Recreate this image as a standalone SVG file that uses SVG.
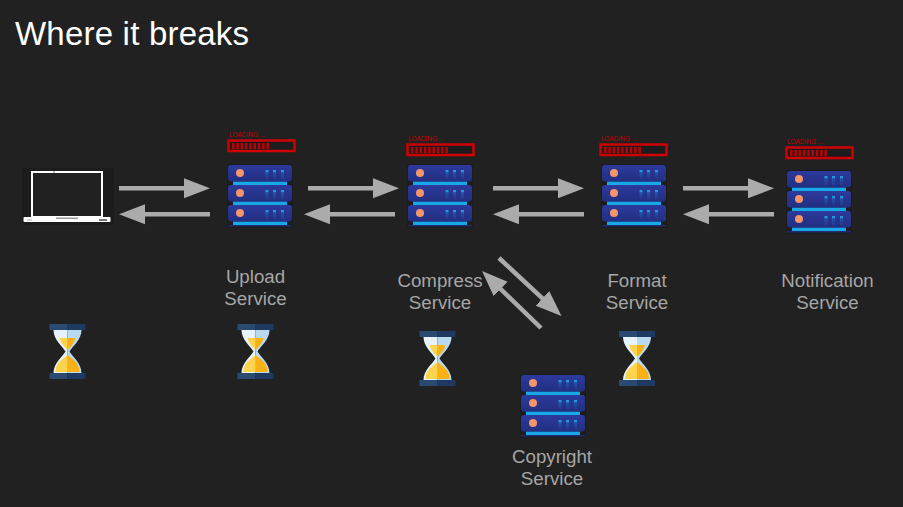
<svg xmlns="http://www.w3.org/2000/svg" width="903" height="507" viewBox="0 0 903 507">
<style>
text{font-family:"Liberation Sans",Arial,sans-serif}
.title{font-size:33px;fill:#fff}
.lab{font-size:18.7px;fill:#a6a6a6;text-anchor:middle}
.load{font-size:6.500px;fill:#c00000}
.conn line{stroke:#ababab;stroke-width:4.500;marker-end:url(#ah)}
</style>
<defs>
<linearGradient id="body" x1="0" y1="0" x2="0" y2="1"><stop offset="0" stop-color="#2c3a9e"/><stop offset="1" stop-color="#232f80"/></linearGradient>
<linearGradient id="tail" x1="0" y1="0" x2="0" y2="1"><stop offset="0" stop-color="#1d56a8"/><stop offset="1" stop-color="#27348b"/></linearGradient>
<marker id="ah" markerUnits="userSpaceOnUse" markerWidth="27" markerHeight="22" refX="11" refY="11" orient="auto"><path d="M0 1L26 11L0 21Z" fill="#ababab"/></marker>
<g id="unit">
<rect x="5" y="16" width="54" height="4" fill="#18a8e6"/>
<rect x="5" y="16" width="54" height="1" fill="#0e6cb0"/>
<rect x="0" y="0" width="64" height="16.500" rx="3" fill="url(#body)"/>
<circle cx="12" cy="8" r="4" fill="#f4956c"/>
<g fill="#1e9ade"><rect x="37.500" y="5" width="3" height="2.500"/><rect x="45" y="5" width="3" height="2.500"/><rect x="53" y="5" width="3" height="2.500"/></g>
<g fill="url(#tail)"><rect x="37.500" y="7.500" width="3" height="7"/><rect x="45" y="7.500" width="3" height="7"/><rect x="53" y="7.500" width="3" height="7"/></g>
</g>
<g id="server">
<rect x="-1" y="-1" width="66" height="64" fill="#1c1c1e"/>
<use href="#unit" y="0"/><use href="#unit" y="20"/><use href="#unit" y="40"/>
<rect x="0" y="60" width="64" height="1.500" fill="#1f2a6e"/>
</g>
<g id="bar">
<text class="load" x="1" y="-3" textLength="36">LOADING ...</text>
<rect x="0.500" y="0.500" width="66" height="10.500" fill="#1c1c1e" stroke="#d00000" stroke-width="2.500"/>
<g fill="#c00000"><rect x="4" y="3" width="2.500" height="6"/><rect x="8.300" y="3" width="2.500" height="6"/><rect x="12.600" y="3" width="2.500" height="6"/><rect x="16.900" y="3" width="2.500" height="6"/><rect x="21.200" y="3" width="2.500" height="6"/><rect x="25.500" y="3" width="2.500" height="6"/><rect x="29.800" y="3" width="2.500" height="6"/><rect x="34.100" y="3" width="2.500" height="6"/><rect x="38.400" y="3" width="2.500" height="6"/></g>
</g>
<g id="glass">
<path d="M-14 6C-14 16-5 22-2 27.500C-5 33-14 39-14 49H0V6Z" fill="#e6f3fb"/>
<path d="M14 6C14 16 5 22 2 27.500C5 33 14 39 14 49H0V6Z" fill="#b9d9ee"/>
<path d="M-8 14C-7 19-3 23 0 26V14Z" fill="#fcd34d"/><path d="M8 14C7 19 3 23 0 26V14Z" fill="#f9b115"/>
<path d="M-12 48C-12 42-9 38-5 35L0 31V48Z" fill="#fcd34d"/><path d="M12 48C12 42 9 38 5 35L0 31V48Z" fill="#f9b115"/>
<rect x="-18" y="0" width="18" height="6" fill="#2a4a72"/><rect x="0" y="0" width="18" height="6" fill="#1f3a60"/>
<rect x="-18" y="49" width="18" height="6" fill="#2a4a72"/><rect x="0" y="49" width="18" height="6" fill="#1f3a60"/>
</g>
</defs>
<rect width="903" height="507" fill="#212121"/>
<text class="title" x="15" y="45" textLength="234">Where it breaks</text>
<g id="connectors" class="conn">
<line x1="119" y1="188.300" x2="195" y2="188.300"/>
<line x1="210" y1="214.300" x2="134" y2="214.300"/>
<line x1="308" y1="188.300" x2="384" y2="188.300"/>
<line x1="395" y1="214.300" x2="319" y2="214.300"/>
<line x1="493" y1="188.300" x2="569" y2="188.300"/>
<line x1="584" y1="214.300" x2="508" y2="214.300"/>
<line x1="683" y1="188.300" x2="759" y2="188.300"/>
<line x1="774" y1="214.300" x2="698" y2="214.300"/>
<line x1="499" y1="258" x2="550.500" y2="305.800"/>
<line x1="541" y1="328" x2="492.800" y2="281.400"/>
</g>
<g id="laptop">
<rect x="22" y="168" width="92" height="57" fill="#1c1c1c"/>
<rect x="32" y="172" width="70" height="45" fill="#212121" stroke="#fff" stroke-width="2"/>
<rect x="53.500" y="171" width="1" height="2" fill="#777"/>
<rect x="23.500" y="217" width="87" height="5" rx="1" fill="#fff"/>
<rect x="56" y="217.500" width="22" height="1.500" fill="#999"/>
<rect x="27" y="219.500" width="5" height="1" fill="#aaa"/>
<rect x="99" y="219" width="8" height="2" fill="#777"/>
</g>
<g id="upload-service"><use href="#server" x="228" y="165"/><use href="#bar" x="228" y="140"/><text class="lab"><tspan x="255.500" y="283">Upload</tspan><tspan x="255.500" y="305">Service</tspan></text></g>
<g id="compress-service"><use href="#server" x="408" y="165"/><use href="#bar" x="407" y="144"/><text class="lab"><tspan x="440" y="287">Compress</tspan><tspan x="440" y="309">Service</tspan></text></g>
<g id="format-service"><use href="#server" x="602" y="165"/><use href="#bar" x="600" y="144"/><text class="lab"><tspan x="637" y="287">Format</tspan><tspan x="637" y="309">Service</tspan></text></g>
<g id="notification-service"><use href="#server" x="787" y="171"/><use href="#bar" x="786" y="147"/><text class="lab"><tspan x="827.500" y="287">Notification</tspan><tspan x="827.500" y="309">Service</tspan></text></g>
<g id="copyright-service"><use href="#server" x="521" y="375"/><text class="lab"><tspan x="552" y="463">Copyright</tspan><tspan x="552" y="485">Service</tspan></text></g>
<g id="hourglass-1"><use href="#glass" x="67.500" y="324"/></g>
<g id="hourglass-2"><use href="#glass" x="255.500" y="324"/></g>
<g id="hourglass-3"><use href="#glass" x="437.500" y="331"/></g>
<g id="hourglass-4"><use href="#glass" x="637" y="331"/></g>
</svg>
